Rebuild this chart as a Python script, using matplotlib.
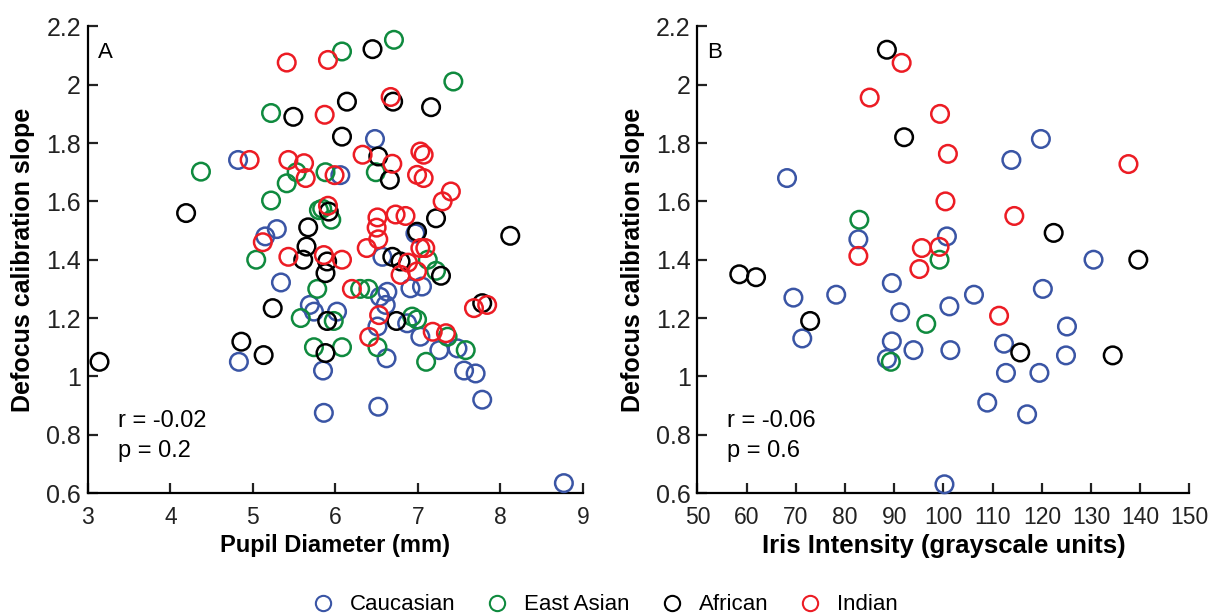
import matplotlib
matplotlib.use("Agg")
import matplotlib.pyplot as plt
from matplotlib.lines import Line2D
from matplotlib.ticker import FuncFormatter

plt.rcParams['font.family'] = ['Liberation Sans', 'DejaVu Sans']

groups = ['Caucasian', 'East Asian', 'African', 'Indian']
colors = ['#3a55a5', '#0f8a3e', '#000000', '#ec1c24']

# panel A: pupil diameter (mm) vs defocus calibration slope
pupil = {
    'Caucasian': [4.82, 6.48, 6.06, 5.29, 5.15, 6.97, 6.57, 5.34, 5.69, 5.74, 6.02, 5.85, 5.86,
                  4.83, 6.54, 6.63, 6.61, 6.91, 7.05, 6.51, 6.87, 7.03, 6.62, 7.26, 7.48, 7.56,
                  7.70, 7.78, 6.52, 8.77],
    'East Asian': [6.08, 6.71, 5.22, 7.43, 4.37, 5.53, 5.41, 5.22, 5.88, 6.49, 5.80, 5.84, 5.95,
                   5.04, 7.12, 7.22, 5.78, 6.30, 6.40, 5.58, 5.98, 5.74, 6.08, 6.93, 6.99, 7.36,
                   6.51, 7.58, 7.10],
    'African': [6.45, 5.49, 6.14, 6.70, 7.16, 6.08, 6.52, 6.66, 5.92, 5.67, 4.19, 7.22, 6.99,
                8.12, 5.61, 5.65, 5.90, 5.88, 6.69, 6.79, 7.28, 5.24, 5.13, 4.86, 3.14, 5.90,
                6.74, 5.88, 7.78],
    'Indian': [5.41, 5.91, 5.87, 6.67, 6.33, 6.69, 7.03, 7.07, 6.99, 7.07, 4.96, 5.43, 5.62,
               5.64, 5.99, 5.91, 7.40, 7.30, 6.51, 6.50, 6.52, 6.73, 6.85, 6.38, 7.03, 7.09,
               5.12, 5.43, 5.86, 6.08, 6.88, 6.99, 6.79, 6.20, 6.53, 6.41, 7.18, 7.34, 7.68,
               7.84],
}
slope_a = {
    'Caucasian': [1.742, 1.814, 1.69, 1.505, 1.48, 1.49, 1.41, 1.322, 1.245, 1.222, 1.222, 1.02,
                  0.875, 1.05, 1.273, 1.29, 1.245, 1.302, 1.308, 1.171, 1.182, 1.136, 1.062,
                  1.09, 1.096, 1.02, 1.01, 0.92, 0.896, 0.634],
    'East Asian': [2.114, 2.154, 1.903, 2.011, 1.702, 1.70, 1.662, 1.603, 1.70, 1.70, 1.57,
                   1.575, 1.537, 1.40, 1.40, 1.362, 1.30, 1.30, 1.30, 1.20, 1.19, 1.10, 1.10,
                   1.205, 1.195, 1.136, 1.10, 1.09, 1.05],
    'African': [2.122, 1.89, 1.942, 1.942, 1.923, 1.822, 1.754, 1.674, 1.565, 1.511, 1.56,
                1.542, 1.496, 1.482, 1.40, 1.445, 1.394, 1.354, 1.41, 1.394, 1.345, 1.234,
                1.073, 1.119, 1.05, 1.19, 1.19, 1.08, 1.251],
    'Indian': [2.076, 2.085, 1.897, 1.958, 1.76, 1.729, 1.771, 1.76, 1.691, 1.68, 1.742, 1.742,
               1.731, 1.68, 1.69, 1.585, 1.634, 1.60, 1.545, 1.51, 1.47, 1.555, 1.55, 1.44,
               1.44, 1.44, 1.46, 1.41, 1.416, 1.40, 1.39, 1.36, 1.348, 1.30, 1.21, 1.135,
               1.153, 1.148, 1.234, 1.245],
}

# panel B: iris intensity (grayscale units) vs defocus calibration slope
iris = {
    'Caucasian': [68.2, 82.7, 69.5, 78.2, 71.3, 89.5, 91.2, 89.5, 88.5, 93.9, 119.8, 113.8,
                  100.7, 130.5, 120.2, 106.2, 101.2, 125.1, 101.4, 112.3, 124.9, 112.7, 119.5,
                  108.9, 117.0, 100.2],
    'East Asian': [82.9, 89.3, 99.2, 96.5],
    'African': [88.5, 92.0, 58.5, 61.9, 72.9, 122.4, 139.6, 115.6, 134.4],
    'Indian': [91.5, 85.0, 82.7, 99.3, 100.9, 137.6, 100.4, 114.4, 95.6, 99.2, 95.1, 111.3],
}
slope_b = {
    'Caucasian': [1.68, 1.47, 1.27, 1.28, 1.13, 1.32, 1.22, 1.12, 1.06, 1.09, 1.814, 1.742,
                  1.48, 1.40, 1.30, 1.28, 1.24, 1.171, 1.09, 1.112, 1.072, 1.012, 1.012, 0.91,
                  0.87, 0.63],
    'East Asian': [1.537, 1.05, 1.40, 1.18],
    'African': [2.12, 1.82, 1.35, 1.34, 1.19, 1.492, 1.40, 1.082, 1.072],
    'Indian': [2.075, 1.956, 1.413, 1.90, 1.763, 1.728, 1.60, 1.55, 1.44, 1.444, 1.368, 1.208],
}

fig = plt.figure(figsize=(12.13, 6.14), dpi=100)
ax_a = fig.add_axes([0.0725, 0.197, 0.408, 0.760])
ax_b = fig.add_axes([0.575, 0.197, 0.4056, 0.760])


def style(ax, xlim, xticks, xlabel, xlabel_size, letter, r_txt, p_txt):
    ax.set_xlim(*xlim)
    ax.set_ylim(0.6, 2.2)
    ax.set_xticks(xticks)
    ax.set_yticks([0.6, 0.8, 1.0, 1.2, 1.4, 1.6, 1.8, 2.0, 2.2])
    ax.yaxis.set_major_formatter(FuncFormatter(lambda v, pos: '%g' % round(v, 2)))
    for s in ['top', 'right']:
        ax.spines[s].set_visible(False)
    for s in ['left', 'bottom']:
        ax.spines[s].set_linewidth(1.6)
    ax.tick_params(direction='in', length=7, width=1.6, colors='#222222')
    ax.tick_params(axis='x', pad=9, labelsize=16.5)
    ax.tick_params(axis='y', pad=5, labelsize=18)
    ax.set_xlabel(xlabel, fontsize=xlabel_size, fontweight='bold', labelpad=4)
    ax.set_ylabel('Defocus calibration slope', fontsize=18, fontweight='bold', labelpad=8)
    ax.text(0.02, 0.945, letter, transform=ax.transAxes, fontsize=16, va='center')
    ax.text(0.06, 0.155, r_txt, transform=ax.transAxes, fontsize=17, va='center')
    ax.text(0.06, 0.09, p_txt, transform=ax.transAxes, fontsize=17, va='center')


for g, c in zip(groups, colors):
    ax_a.scatter(pupil[g], slope_a[g], s=160, facecolors='none', edgecolors=c,
                 linewidths=1.8, clip_on=False, zorder=3)
    ax_b.scatter(iris[g], slope_b[g], s=160, facecolors='none', edgecolors=c,
                 linewidths=1.8, clip_on=False, zorder=3)

style(ax_a, (3, 9), range(3, 10), 'Pupil Diameter (mm)', 17, 'A', 'r = -0.02', 'p = 0.2')
style(ax_b, (50, 150), range(50, 151, 10), 'Iris Intensity (grayscale units)', 18.5, 'B',
      'r = -0.06', 'p = 0.6')

handles = [Line2D([], [], marker='o', linestyle='none', markersize=11, markerfacecolor='none',
                  markeredgecolor=c, markeredgewidth=1.5) for c in colors]
fig.legend(handles, groups, loc='lower center', bbox_to_anchor=(0.494, -0.035), ncol=4,
           frameon=False, fontsize=16, handletextpad=0.2, columnspacing=0.9)

fig.savefig('out.png', dpi=100)
